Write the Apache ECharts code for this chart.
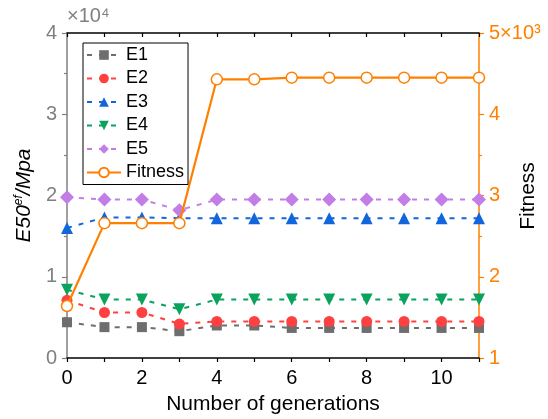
<!DOCTYPE html>
<html><head><meta charset="utf-8">
<script src="https://cdn.jsdelivr.net/npm/echarts@6/dist/echarts.min.js"></script>
<style>html,body{margin:0;padding:0;background:#fff}#c{width:548px;height:419px}</style>
</head><body><div id="c"></div>
<script>
var generations = [0,1,2,3,4,5,6,7,8,9,10,11];
var E1 = [0.44,0.38,0.38,0.33,0.40,0.40,0.37,0.37,0.37,0.37,0.37,0.37];
var E2 = [0.71,0.56,0.56,0.42,0.45,0.45,0.45,0.45,0.45,0.45,0.45,0.45];
var E3 = [1.60,1.73,1.73,1.72,1.72,1.72,1.72,1.72,1.72,1.72,1.72,1.72];
var E4 = [0.84,0.72,0.72,0.60,0.72,0.72,0.72,0.72,0.72,0.72,0.72,0.72];
var E5 = [1.98,1.95,1.95,1.82,1.95,1.95,1.95,1.95,1.95,1.95,1.95,1.95];
var fitness = [1.64,2.66,2.66,2.66,4.43,4.43,4.45,4.45,4.45,4.45,4.45,4.45];
var seriesNames = ['E1','E2','E3','E4','E5','Fitness'];
var leftTicks = [0,1,2,3,4];
var rightTicks = [1,2,3,4,5];

var font = 'Arial, "Liberation Sans", sans-serif';
function pairs(arr){ return generations.map(function(g,i){ return [g, arr[i]]; }); }
function eSeries(name, data, color, symbol, size){
  return {
    name: name, type: 'line', yAxisIndex: 0, data: pairs(data),
    symbol: symbol, symbolSize: size,
    itemStyle: { color: color },
    lineStyle: { color: color, width: 2, type: [5, 7] },
    z: 2
  };
}
var chart = echarts.init(document.getElementById('c'), null, {renderer:'canvas'});
chart.setOption({
  animation: false,
  textStyle: { fontFamily: font },
  grid: { left: 67, right: 69, top: 33, bottom: 61, containLabel: false, outerBoundsMode: 'none' },
  legend: {
    orient: 'vertical', left: 83, top: 43,
    backgroundColor: '#fff', borderColor: '#000', borderWidth: 1, borderRadius: 0,
    padding: [3, 4, 3, 3], itemGap: 5.5, itemWidth: 34, itemHeight: 12,
    textStyle: { fontSize: 18, color: '#000', fontFamily: font },
    data: seriesNames
  },
  xAxis: [{
    type: 'value', min: 0, max: 11, interval: 1,
    name: 'Number of generations', nameLocation: 'middle', nameGap: 36,
    nameTextStyle: { fontSize: 21, color: '#000', fontFamily: font },
    axisLine: { show: true, onZero: false, lineStyle: { color: '#000', width: 1.5 } },
    axisTick: { show: true, inside: false, length: 4, lineStyle: { color: '#000', width: 1.2 } },
    axisLabel: { fontSize: 20, color: '#000', margin: 10,
      formatter: function(v){ return v % 2 === 0 ? String(v) : ''; } },
    splitLine: { show: false }
  },{
    type: 'value', min: 0, max: 11, interval: 1, position: 'top',
    axisLine: { show: true, onZero: false, lineStyle: { color: '#000', width: 1.5 } },
    axisTick: { show: true, inside: true, length: 4, lineStyle: { color: '#000', width: 1.2 } },
    axisLabel: { show: false }, splitLine: { show: false }
  }],
  yAxis: [{
    type: 'value', min: 0, max: 4, interval: 1, position: 'left',
    name: '{it|E50}{sup|ef}{it|/Mpa}', nameLocation: 'middle', nameGap: 30, nameRotate: 90,
    nameTextStyle: { rich: {
      it: { fontSize: 21, fontStyle: 'italic', color: '#000', fontFamily: font },
      sup: { fontSize: 12, fontStyle: 'italic', color: '#000', fontFamily: font, verticalAlign: 'top', padding: [0,0,12,0] }
    } },
    axisLine: { show: true, onZero: false, lineStyle: { color: '#808080', width: 1.5 } },
    axisTick: { show: true, inside: false, length: 5, lineStyle: { color: '#808080', width: 1.2 } },
    minorTick: { show: true, splitNumber: 2, length: 3, lineStyle: { color: '#808080', width: 1.2 } },
    axisLabel: { fontSize: 20, color: '#808080', margin: 10,
      formatter: function(v){ return leftTicks.indexOf(v) >= 0 ? String(v) : ''; } },
    splitLine: { show: false }
  },{
    type: 'value', min: 1, max: 5, interval: 1, position: 'right',
    axisLine: { show: true, onZero: false, lineStyle: { color: '#ff8000', width: 1.5 } },
    axisTick: { show: true, inside: false, length: 5, lineStyle: { color: '#ff8000', width: 1.2 } },
    minorTick: { show: true, splitNumber: 2, length: 3, lineStyle: { color: '#ff8000', width: 1.2 } },
    axisLabel: { fontSize: 20, color: '#ff8000', margin: 10,
      formatter: function(v){ return v === 5 ? '5×10³' : (rightTicks.indexOf(v) >= 0 ? String(v) : ''); } },
    splitLine: { show: false }
  }],
  graphic: [{
    type: 'text', left: 67, top: 6,
    style: { text: '×10⁴', fontSize: 20, fill: '#808080', fontFamily: font }
  },{
    type: 'text', x: 528, y: 196, rotation: Math.PI / 2,
    style: { text: 'Fitness', fontSize: 21, fill: '#000', fontFamily: font,
      textAlign: 'center', textVerticalAlign: 'middle', align: 'center', verticalAlign: 'middle' }
  }],
  series: [
    eSeries('E1', E1, '#6e6e6e', 'rect', 10),
    eSeries('E2', E2, '#ff4040', 'circle', 11),
    eSeries('E3', E3, '#1166dd', 'triangle', 12),
    eSeries('E4', E4, '#0aa35e', 'path://M0,0 L10,0 L5,9 Z', 12),
    eSeries('E5', E5, '#c27ee6', 'diamond', 14),
    {
      name: 'Fitness', type: 'line', yAxisIndex: 1, data: pairs(fitness),
      symbol: 'circle', symbolSize: 11, showAllSymbol: true,
      itemStyle: { color: '#fff', borderColor: '#ff8000', borderWidth: 1.5 },
      lineStyle: { color: '#ff8000', width: 2.2 },
      z: 3
    }
  ]
});
</script></body></html>
